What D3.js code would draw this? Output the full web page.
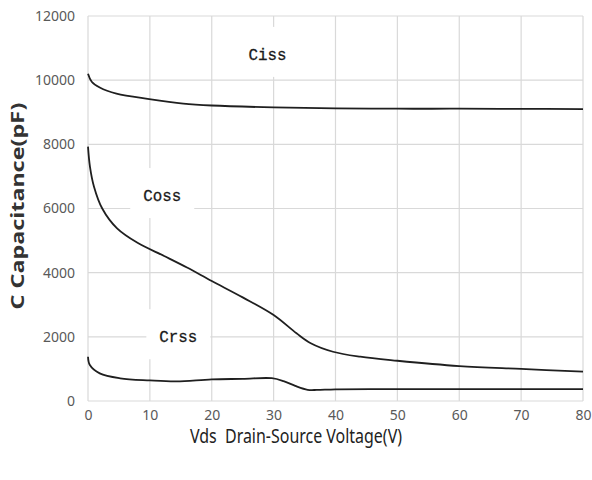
<!DOCTYPE html>
<html><head><meta charset="utf-8">
<script src="https://cdn.jsdelivr.net/npm/d3@7"></script>
<style>body{margin:0;background:#fff;} svg{display:block;}</style>
</head><body>
<script>
const xTicks = [0,10,20,30,40,50,60,70,80];
const yTicks = [0,2000,4000,6000,8000,10000,12000];

const cissV = [0,0.6,1.9,4.6,9.9,15.4,20,30,40,50,60,70,80];
const cissC = [10200,9950,9770,9580,9410,9270,9210,9150,9120,9110,9110,9105,9100];

const cossV = [0,0.32,0.97,2.3,4.7,8,12.3,16,20,25,30,33.7,36,39.6,44,50,60,70,80];
const cossC = [7930,7300,6680,6000,5380,4930,4520,4160,3740,3230,2680,2110,1800,1535,1380,1255,1090,1000,915];

const crssV = [0,0.3,1.9,5.2,10,14.3,20,25,29.7,31.6,33.5,35.5,37,40,50,60,70,80];
const crssC = [1380,1120,860,705,640,610,675,690,710,620,470,350,345,365,370,370,370,370];

const labels = [
  {text:"Ciss", v:29, c:10850},
  {text:"Coss", v:12, c:6450},
  {text:"Crss", v:14.6, c:2050}
];

const W=592,H=480;
const svg=d3.select("body").append("svg").attr("width",W).attr("height",H);
const x=d3.scaleLinear().domain([0,80]).range([88,583]);
const y=d3.scaleLinear().domain([0,12000]).range([401,16]);

// grid
svg.append("g").selectAll("line").data(yTicks).join("line")
  .attr("x1",x(0)).attr("x2",x(80)).attr("y1",d=>y(d)).attr("y2",d=>y(d))
  .attr("stroke","#d9d9d9").attr("stroke-width",1.2);
svg.append("g").selectAll("line").data(xTicks).join("line")
  .attr("y1",y(0)).attr("y2",y(12000)).attr("x1",d=>x(d)).attr("x2",d=>x(d))
  .attr("stroke","#d9d9d9").attr("stroke-width",1.2);

// axes (labels only)
const xAxis=svg.append("g").attr("transform",`translate(0,${y(0)})`)
  .call(d3.axisBottom(x).tickValues(xTicks).tickSize(0).tickPadding(9));
const yAxis=svg.append("g").attr("transform",`translate(${x(0)},0)`)
  .call(d3.axisLeft(y).tickValues(yTicks).tickSize(0).tickPadding(13).tickFormat(d3.format("d")));
[xAxis,yAxis].forEach(a=>{
  a.select(".domain").remove();
  a.selectAll("text").attr("fill","#595959").attr("font-family","Noto Sans").attr("font-size",14);
});

// label boxes
const lab=svg.append("g");
labels.forEach(l=>{
  lab.append("rect").attr("x",x(l.v)-32).attr("y",y(l.c)-26).attr("width",64).attr("height",50).attr("fill","#fff");
});

// lines
const line=d3.line().x(d=>x(d[0])).y(d=>y(d[1])).curve(d3.curveCatmullRom.alpha(0.5));
[[cissV,cissC],[cossV,cossC],[crssV,crssC]].forEach(([vs,cs])=>{
  svg.append("path").datum(vs.map((v,i)=>[v,cs[i]])).attr("d",line)
    .attr("fill","none").attr("stroke","#1f1f1f").attr("stroke-width",1.8);
});

labels.forEach(l=>{
  lab.append("text").attr("x",x(l.v)).attr("y",y(l.c)+7).attr("text-anchor","middle")
    .attr("font-family","Liberation Mono").attr("font-size",17).attr("fill","#1a1a1a")
    .attr("stroke","#1a1a1a").attr("stroke-width",0.3)
    .attr("textLength",38).attr("lengthAdjust","spacingAndGlyphs").text(l.text);
});

// titles
svg.append("text").attr("x",296).attr("y",443).attr("text-anchor","middle")
  .attr("font-family","Noto Sans").attr("font-size",19).attr("fill","#222")
  .attr("textLength",212).attr("lengthAdjust","spacingAndGlyphs")
  .text("Vds\u00a0\u00a0Drain-Source Voltage(V)");
svg.append("text").attr("transform","translate(24,206) rotate(-90)").attr("text-anchor","middle")
  .attr("font-family","Noto Sans").attr("font-weight","bold").attr("font-size",17).attr("fill","#333")
  .attr("textLength",207).attr("lengthAdjust","spacingAndGlyphs")
  .text("C Capacitance(pF)");
</script>
</body></html>
